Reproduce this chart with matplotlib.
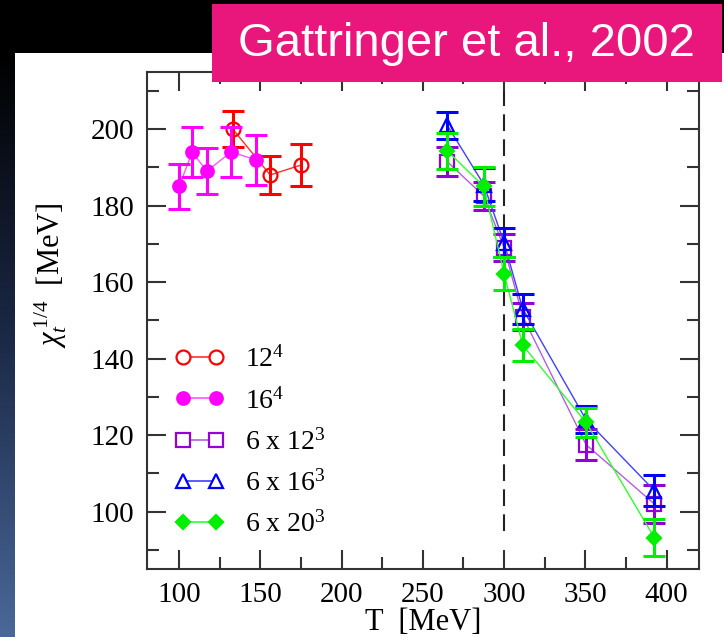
import matplotlib
matplotlib.use("Agg")
import matplotlib.pyplot as plt
import numpy as np
from matplotlib.patches import Rectangle

plt.rcParams['font.family'] = ['Liberation Serif', 'DejaVu Serif']
plt.rcParams['mathtext.fontset'] = 'custom'
plt.rcParams['mathtext.rm'] = 'Liberation Serif'
plt.rcParams['mathtext.it'] = 'Liberation Serif:italic'

# 12^4 and 16^4 lattices
T_12 = [133, 156, 175]
chi_12 = [200.0, 188.0, 190.6]
err_12 = [4.7, 5.0, 5.5]

T_16 = [100, 108, 117, 132, 147]
chi_16 = [185.0, 194.0, 189.0, 194.0, 192.0]
err_16 = [6.0, 6.5, 6.0, 6.5, 6.5]

# 6 x N^3 lattices share the temperature points
T_6 = [265, 287.5, 300, 311.5, 350.5, 392.5]
chi_6x12 = [191.5, 182.5, 169.0, 151.0, 117.5, 102.0]
err_6x12 = [3.7, 3.6, 3.5, 3.5, 4.0, 5.0]
chi_6x16 = [201.0, 185.5, 170.3, 153.0, 124.0, 105.5]
err_6x16 = [3.5, 4.2, 3.8, 4.0, 3.5, 4.0]
chi_6x20 = [194.3, 185.0, 162.2, 143.5, 123.3, 93.2]
err_6x20 = [4.8, 5.0, 4.3, 4.2, 3.9, 4.9]

T_c = 300

W, H = 724, 637
fig = plt.figure(figsize=(W / 100, H / 100), dpi=100)
fig.patch.set_facecolor('black')

# white slide panel and the blue strip down the left edge
fig.add_artist(Rectangle((15 / W, 0), 1 - 15 / W, 1 - 52.5 / H,
                         transform=fig.transFigure, facecolor='white',
                         edgecolor='none', zorder=0))
strip = fig.add_axes([0, 0, 15 / W, 1 - 52.5 / H])
grad = np.linspace(0, 1, 256)[:, None]
cmap = matplotlib.colors.LinearSegmentedColormap.from_list(
    'strip', ['#000000', '#1c2a48', '#4a6899'])
strip.imshow(grad, aspect='auto', cmap=cmap, origin='upper')
strip.axis('off')

ax = fig.add_axes([146.7 / W, 1 - 569 / H, (699 - 146.7) / W, (569 - 71.7) / H])
ax.set_facecolor('white')

series = [
    (T_12, chi_12, err_12, 'o', '#ff0000', '#ff3030', 'none', r'12$^{4}$', 10),
    (T_16, chi_16, err_16, 'o', '#ff00ff', '#ff55ff', '#ff00ff', r'16$^{4}$', 9),
    (T_6, chi_6x12, err_6x12, 's', '#9400d3', '#b060e0', 'none', r'6 x 12$^{3}$', 9.5),
    (T_6, chi_6x16, err_6x16, '^', '#0000ff', '#4040ff', 'none', r'6 x 16$^{3}$', 10),
    (T_6, chi_6x20, err_6x20, 'D', '#00ee00', '#30ff30', '#00ee00', r'6 x 20$^{3}$', 7.5),
]

handles = []
for i, (t, y, e, mk, col, lcol, fc, lab, ms) in enumerate(series):
    z = 3 + i
    ax.plot(t, y, '-', color=lcol, lw=1.0, zorder=z)
    ax.errorbar(t, y, yerr=e, fmt='none', ecolor=col, elinewidth=2.2,
                capsize=8, capthick=2.2, zorder=z)
    ax.plot(t, y, linestyle='none', marker=mk, ms=ms, mfc=fc, mec=col,
            mew=1.6, zorder=z)
    h, = ax.plot([], [], '-', color=lcol, lw=1.2, marker=mk, ms=ms,
                 mfc=fc if fc != 'none' else 'white', mec=col, mew=1.6,
                 label=lab)
    handles.append(h)

ax.axvline(T_c, ymin=(95 - 85) / 130, ymax=(210 - 85) / 130, color='#222222',
           lw=1.5, dashes=(8, 4), zorder=2)

ax.set_xlim(80, 420)
ax.set_ylim(85, 215)
ax.set_xticks(np.arange(100, 401, 50))
ax.set_xticks(np.arange(100, 401, 25), minor=True)
ax.set_yticks(np.arange(100, 201, 20))
ax.set_yticks(np.arange(90, 211, 10), minor=True)
ax.tick_params(which='both', direction='in', top=True, right=True,
               color='#333333', width=1.5, labelsize=21)
ax.tick_params(which='major', length=14, pad=9)
ax.tick_params(which='minor', length=8.5)
for sp in ax.spines.values():
    sp.set_color('#333333')
    sp.set_linewidth(1.5)

ax.set_xlabel('T  [MeV]', fontsize=22, labelpad=0)
ax.set_ylabel(r'$\chi_t^{\,1/4}$  [MeV]', fontsize=22)
ax.yaxis.set_label_coords(-0.14, 0.59)

ax.legend(handles=handles, loc='upper left', bbox_to_anchor=(0.03, 0.47),
          frameon=False, fontsize=20, numpoints=2, handlelength=1.8,
          handletextpad=0.75, labelspacing=0.53, borderaxespad=0)

# title banner
fig.add_artist(Rectangle((212 / W, 1 - 81.5 / H), (722 - 212) / W, 77.5 / H,
                         transform=fig.transFigure, facecolor='#e9177b',
                         edgecolor='none', zorder=10))
fig.text(466 / W, 1 - 44 / H, 'Gattringer et al., 2002', color='white',
         fontsize=34, family='Liberation Sans', ha='center', va='center',
         zorder=11)

fig.savefig('out.png', dpi=100, facecolor=fig.get_facecolor())
